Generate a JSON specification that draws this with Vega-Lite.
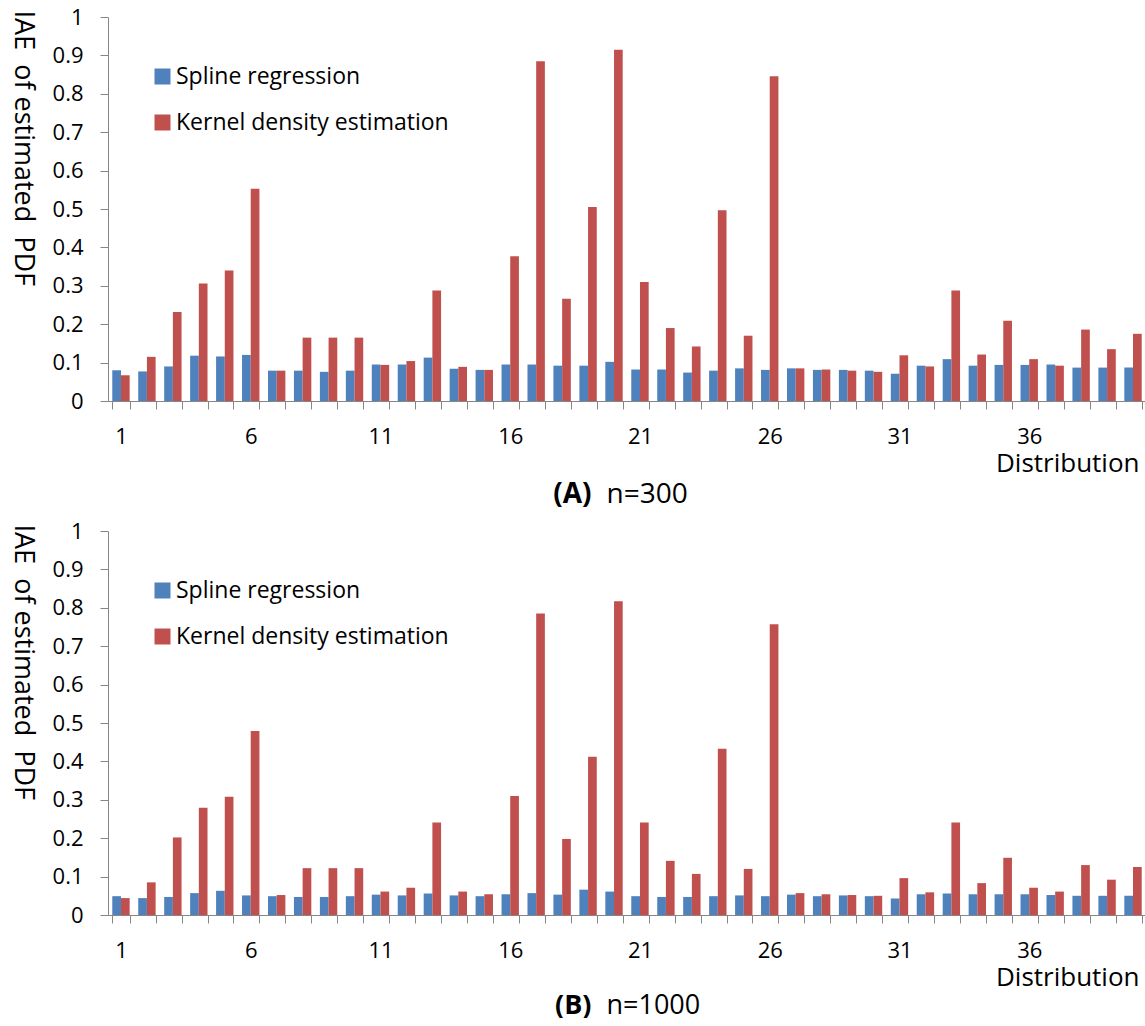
{
  "$schema": "https://vega.github.io/schema/vega-lite/v6.json",
  "padding": {"left": 9, "top": 6, "right": 0, "bottom": 0},
  "spacing": 12,
  "background": "white",
  "config": {
    "font": "Open Sans",
    "view": {"stroke": null},
    "axis": {"domainColor": "#868686", "tickColor": "#868686", "labelColor": "#000000", "titleColor": "#000000", "grid": false, "labelFont": "Open Sans", "titleFont": "Open Sans"},
    "legend": {"labelFont": "Open Sans", "labelColor": "#000000"}
  },
  "datasets": {
    "A": [
      {"d":1,"m":"Spline regression","v":0.080},{"d":1,"m":"Kernel density estimation","v":0.067},
      {"d":2,"m":"Spline regression","v":0.077},{"d":2,"m":"Kernel density estimation","v":0.115},
      {"d":3,"m":"Spline regression","v":0.090},{"d":3,"m":"Kernel density estimation","v":0.232},
      {"d":4,"m":"Spline regression","v":0.118},{"d":4,"m":"Kernel density estimation","v":0.306},
      {"d":5,"m":"Spline regression","v":0.116},{"d":5,"m":"Kernel density estimation","v":0.340},
      {"d":6,"m":"Spline regression","v":0.120},{"d":6,"m":"Kernel density estimation","v":0.553},
      {"d":7,"m":"Spline regression","v":0.079},{"d":7,"m":"Kernel density estimation","v":0.079},
      {"d":8,"m":"Spline regression","v":0.079},{"d":8,"m":"Kernel density estimation","v":0.165},
      {"d":9,"m":"Spline regression","v":0.076},{"d":9,"m":"Kernel density estimation","v":0.165},
      {"d":10,"m":"Spline regression","v":0.079},{"d":10,"m":"Kernel density estimation","v":0.165},
      {"d":11,"m":"Spline regression","v":0.095},{"d":11,"m":"Kernel density estimation","v":0.094},
      {"d":12,"m":"Spline regression","v":0.095},{"d":12,"m":"Kernel density estimation","v":0.104},
      {"d":13,"m":"Spline regression","v":0.113},{"d":13,"m":"Kernel density estimation","v":0.288},
      {"d":14,"m":"Spline regression","v":0.084},{"d":14,"m":"Kernel density estimation","v":0.089},
      {"d":15,"m":"Spline regression","v":0.081},{"d":15,"m":"Kernel density estimation","v":0.081},
      {"d":16,"m":"Spline regression","v":0.095},{"d":16,"m":"Kernel density estimation","v":0.377},
      {"d":17,"m":"Spline regression","v":0.095},{"d":17,"m":"Kernel density estimation","v":0.885},
      {"d":18,"m":"Spline regression","v":0.092},{"d":18,"m":"Kernel density estimation","v":0.266},
      {"d":19,"m":"Spline regression","v":0.092},{"d":19,"m":"Kernel density estimation","v":0.505},
      {"d":20,"m":"Spline regression","v":0.102},{"d":20,"m":"Kernel density estimation","v":0.915},
      {"d":21,"m":"Spline regression","v":0.082},{"d":21,"m":"Kernel density estimation","v":0.310},
      {"d":22,"m":"Spline regression","v":0.082},{"d":22,"m":"Kernel density estimation","v":0.190},
      {"d":23,"m":"Spline regression","v":0.074},{"d":23,"m":"Kernel density estimation","v":0.142},
      {"d":24,"m":"Spline regression","v":0.079},{"d":24,"m":"Kernel density estimation","v":0.497},
      {"d":25,"m":"Spline regression","v":0.085},{"d":25,"m":"Kernel density estimation","v":0.170},
      {"d":26,"m":"Spline regression","v":0.081},{"d":26,"m":"Kernel density estimation","v":0.846},
      {"d":27,"m":"Spline regression","v":0.085},{"d":27,"m":"Kernel density estimation","v":0.085},
      {"d":28,"m":"Spline regression","v":0.081},{"d":28,"m":"Kernel density estimation","v":0.082},
      {"d":29,"m":"Spline regression","v":0.081},{"d":29,"m":"Kernel density estimation","v":0.079},
      {"d":30,"m":"Spline regression","v":0.079},{"d":30,"m":"Kernel density estimation","v":0.076},
      {"d":31,"m":"Spline regression","v":0.071},{"d":31,"m":"Kernel density estimation","v":0.119},
      {"d":32,"m":"Spline regression","v":0.092},{"d":32,"m":"Kernel density estimation","v":0.090},
      {"d":33,"m":"Spline regression","v":0.109},{"d":33,"m":"Kernel density estimation","v":0.288},
      {"d":34,"m":"Spline regression","v":0.092},{"d":34,"m":"Kernel density estimation","v":0.121},
      {"d":35,"m":"Spline regression","v":0.094},{"d":35,"m":"Kernel density estimation","v":0.209},
      {"d":36,"m":"Spline regression","v":0.094},{"d":36,"m":"Kernel density estimation","v":0.109},
      {"d":37,"m":"Spline regression","v":0.095},{"d":37,"m":"Kernel density estimation","v":0.092},
      {"d":38,"m":"Spline regression","v":0.087},{"d":38,"m":"Kernel density estimation","v":0.186},
      {"d":39,"m":"Spline regression","v":0.087},{"d":39,"m":"Kernel density estimation","v":0.135},
      {"d":40,"m":"Spline regression","v":0.087},{"d":40,"m":"Kernel density estimation","v":0.175}
    ],
    "B": [
      {"d":1,"m":"Spline regression","v":0.049},{"d":1,"m":"Kernel density estimation","v":0.044},
      {"d":2,"m":"Spline regression","v":0.044},{"d":2,"m":"Kernel density estimation","v":0.085},
      {"d":3,"m":"Spline regression","v":0.047},{"d":3,"m":"Kernel density estimation","v":0.202},
      {"d":4,"m":"Spline regression","v":0.057},{"d":4,"m":"Kernel density estimation","v":0.279},
      {"d":5,"m":"Spline regression","v":0.063},{"d":5,"m":"Kernel density estimation","v":0.308},
      {"d":6,"m":"Spline regression","v":0.051},{"d":6,"m":"Kernel density estimation","v":0.479},
      {"d":7,"m":"Spline regression","v":0.049},{"d":7,"m":"Kernel density estimation","v":0.052},
      {"d":8,"m":"Spline regression","v":0.047},{"d":8,"m":"Kernel density estimation","v":0.122},
      {"d":9,"m":"Spline regression","v":0.047},{"d":9,"m":"Kernel density estimation","v":0.122},
      {"d":10,"m":"Spline regression","v":0.049},{"d":10,"m":"Kernel density estimation","v":0.122},
      {"d":11,"m":"Spline regression","v":0.053},{"d":11,"m":"Kernel density estimation","v":0.061},
      {"d":12,"m":"Spline regression","v":0.051},{"d":12,"m":"Kernel density estimation","v":0.071},
      {"d":13,"m":"Spline regression","v":0.056},{"d":13,"m":"Kernel density estimation","v":0.241},
      {"d":14,"m":"Spline regression","v":0.051},{"d":14,"m":"Kernel density estimation","v":0.061},
      {"d":15,"m":"Spline regression","v":0.049},{"d":15,"m":"Kernel density estimation","v":0.054},
      {"d":16,"m":"Spline regression","v":0.054},{"d":16,"m":"Kernel density estimation","v":0.310},
      {"d":17,"m":"Spline regression","v":0.057},{"d":17,"m":"Kernel density estimation","v":0.785},
      {"d":18,"m":"Spline regression","v":0.053},{"d":18,"m":"Kernel density estimation","v":0.198},
      {"d":19,"m":"Spline regression","v":0.066},{"d":19,"m":"Kernel density estimation","v":0.412},
      {"d":20,"m":"Spline regression","v":0.061},{"d":20,"m":"Kernel density estimation","v":0.817},
      {"d":21,"m":"Spline regression","v":0.049},{"d":21,"m":"Kernel density estimation","v":0.241},
      {"d":22,"m":"Spline regression","v":0.047},{"d":22,"m":"Kernel density estimation","v":0.141},
      {"d":23,"m":"Spline regression","v":0.047},{"d":23,"m":"Kernel density estimation","v":0.107},
      {"d":24,"m":"Spline regression","v":0.049},{"d":24,"m":"Kernel density estimation","v":0.433},
      {"d":25,"m":"Spline regression","v":0.051},{"d":25,"m":"Kernel density estimation","v":0.120},
      {"d":26,"m":"Spline regression","v":0.049},{"d":26,"m":"Kernel density estimation","v":0.757},
      {"d":27,"m":"Spline regression","v":0.053},{"d":27,"m":"Kernel density estimation","v":0.057},
      {"d":28,"m":"Spline regression","v":0.049},{"d":28,"m":"Kernel density estimation","v":0.054},
      {"d":29,"m":"Spline regression","v":0.051},{"d":29,"m":"Kernel density estimation","v":0.052},
      {"d":30,"m":"Spline regression","v":0.049},{"d":30,"m":"Kernel density estimation","v":0.050},
      {"d":31,"m":"Spline regression","v":0.043},{"d":31,"m":"Kernel density estimation","v":0.096},
      {"d":32,"m":"Spline regression","v":0.054},{"d":32,"m":"Kernel density estimation","v":0.059},
      {"d":33,"m":"Spline regression","v":0.056},{"d":33,"m":"Kernel density estimation","v":0.241},
      {"d":34,"m":"Spline regression","v":0.054},{"d":34,"m":"Kernel density estimation","v":0.083},
      {"d":35,"m":"Spline regression","v":0.054},{"d":35,"m":"Kernel density estimation","v":0.149},
      {"d":36,"m":"Spline regression","v":0.054},{"d":36,"m":"Kernel density estimation","v":0.071},
      {"d":37,"m":"Spline regression","v":0.052},{"d":37,"m":"Kernel density estimation","v":0.061},
      {"d":38,"m":"Spline regression","v":0.050},{"d":38,"m":"Kernel density estimation","v":0.130},
      {"d":39,"m":"Spline regression","v":0.050},{"d":39,"m":"Kernel density estimation","v":0.092},
      {"d":40,"m":"Spline regression","v":0.050},{"d":40,"m":"Kernel density estimation","v":0.125}
    ]
  },
  "vconcat": [
    {
      "width": 1038,
      "height": 384,
      "data": {"name": "A"},
      "encoding": {
        "y": {"field": "v", "type": "quantitative", "scale": {"domain": [0, 1]},
          "axis": {"values": [0, 0.1, 0.2, 0.3, 0.4, 0.5, 0.6, 0.7, 0.8, 0.9, 1], "format": "~g", "tickSize": 8, "labelFontSize": 22, "labelPadding": 17, "title": "IAE\u00a0 of estimated\u00a0 PDF", "titleFontSize": 27, "titleFontWeight": "normal", "titleAngle": 90, "titleAlign": "left", "titleBaseline": "top", "titleX": -73, "titleY": -7}}
      },
      "layer": [
        {
          "mark": {"type": "bar"},
          "encoding": {
            "x": {"field": "d", "type": "ordinal", "scale": {"paddingInner": 0.33, "paddingOuter": 0.165},
              "axis": {"orient": "bottom", "labelExpr": "(datum.value - 1) % 5 == 0 ? datum.label : ''", "labelAngle": 0, "tickBand": "extent", "tickSize": 8, "labelFontSize": 22, "labelBaseline": "middle", "labelPadding": 27, "title": "Distribution", "titleFontSize": 26, "titleFontWeight": "normal", "titleAlign": "right", "titleX": 1031, "titleY": 62, "titleBaseline": "middle"}},
            "xOffset": {"field": "m", "sort": ["Spline regression", "Kernel density estimation"], "scale": {"paddingInner": 0}},
            "color": {"field": "m", "type": "nominal", "sort": ["Spline regression", "Kernel density estimation"], "scale": {"domain": ["Spline regression", "Kernel density estimation"], "range": ["#4F81BD", "#C0504D"]},
              "legend": {"title": null, "orient": "none", "legendX": 43, "legendY": 48, "symbolType": "square", "symbolSize": 256, "symbolStrokeWidth": 0, "labelFontSize": 23, "labelLimit": 500, "rowPadding": 22, "labelOffset": 2, "padding": 0}}
          }
        },
        {
          "mark": {"type": "bar", "opacity": 0},
          "encoding": {
            "x": {"field": "d", "type": "ordinal", "axis": {"orient": "bottom", "title": "(A)", "labels": false, "ticks": false, "domain": false, "titleFontSize": 28, "titleFontWeight": "bold", "titleAlign": "right", "titleBaseline": "middle", "titleX": 483, "titleY": 93}}
          }
        },
        {
          "mark": {"type": "bar", "opacity": 0},
          "encoding": {
            "x": {"field": "d", "type": "ordinal", "axis": {"orient": "bottom", "title": "n=300", "labels": false, "ticks": false, "domain": false, "titleFontSize": 28, "titleFontWeight": "normal", "titleAlign": "left", "titleBaseline": "middle", "titleX": 498, "titleY": 93}}
          }
        }
      ],
      "resolve": {"axis": {"x": "independent"}}
    },
    {
      "width": 1038,
      "height": 384,
      "data": {"name": "B"},
      "encoding": {
        "y": {"field": "v", "type": "quantitative", "scale": {"domain": [0, 1]},
          "axis": {"values": [0, 0.1, 0.2, 0.3, 0.4, 0.5, 0.6, 0.7, 0.8, 0.9, 1], "format": "~g", "tickSize": 8, "labelFontSize": 22, "labelPadding": 17, "title": "IAE\u00a0 of estimated\u00a0 PDF", "titleFontSize": 27, "titleFontWeight": "normal", "titleAngle": 90, "titleAlign": "left", "titleBaseline": "top", "titleX": -73, "titleY": -7}}
      },
      "layer": [
        {
          "mark": {"type": "bar"},
          "encoding": {
            "x": {"field": "d", "type": "ordinal", "scale": {"paddingInner": 0.33, "paddingOuter": 0.165},
              "axis": {"orient": "bottom", "labelExpr": "(datum.value - 1) % 5 == 0 ? datum.label : ''", "labelAngle": 0, "tickBand": "extent", "tickSize": 8, "labelFontSize": 22, "labelBaseline": "middle", "labelPadding": 27, "title": "Distribution", "titleFontSize": 26, "titleFontWeight": "normal", "titleAlign": "right", "titleX": 1031, "titleY": 62, "titleBaseline": "middle"}},
            "xOffset": {"field": "m", "sort": ["Spline regression", "Kernel density estimation"], "scale": {"paddingInner": 0}},
            "color": {"field": "m", "type": "nominal", "sort": ["Spline regression", "Kernel density estimation"], "scale": {"domain": ["Spline regression", "Kernel density estimation"], "range": ["#4F81BD", "#C0504D"]},
              "legend": {"title": null, "orient": "none", "legendX": 43, "legendY": 48, "symbolType": "square", "symbolSize": 256, "symbolStrokeWidth": 0, "labelFontSize": 23, "labelLimit": 500, "rowPadding": 22, "labelOffset": 2, "padding": 0}}
          }
        },
        {
          "mark": {"type": "bar", "opacity": 0},
          "encoding": {
            "x": {"field": "d", "type": "ordinal", "axis": {"orient": "bottom", "title": "(B)", "labels": false, "ticks": false, "domain": false, "titleFontSize": 27, "titleFontWeight": "bold", "titleAlign": "right", "titleBaseline": "middle", "titleX": 483, "titleY": 90}}
          }
        },
        {
          "mark": {"type": "bar", "opacity": 0},
          "encoding": {
            "x": {"field": "d", "type": "ordinal", "axis": {"orient": "bottom", "title": "n=1000", "labels": false, "ticks": false, "domain": false, "titleFontSize": 27, "titleFontWeight": "normal", "titleAlign": "left", "titleBaseline": "middle", "titleX": 498, "titleY": 90}}
          }
        }
      ],
      "resolve": {"axis": {"x": "independent"}}
    }
  ],
  "resolve": {"scale": {"color": "independent"}, "legend": {"color": "independent"}}
}
